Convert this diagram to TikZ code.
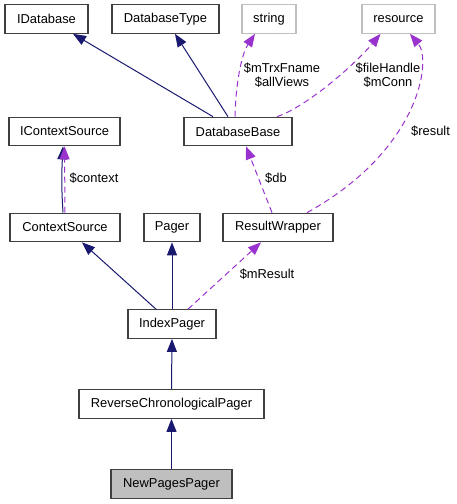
\documentclass[tikz,border=0pt]{standalone}
\usepackage{fontspec}
\setmainfont{Liberation Sans}
\usetikzlibrary{arrows.meta}
\definecolor{navy}{HTML}{191970}
\definecolor{orchid}{HTML}{9A32CD}
\definecolor{boxline}{HTML}{404040}
\definecolor{grayline}{HTML}{BFBFBF}
\definecolor{grayfill}{HTML}{BFBFBF}
\begin{document}
\begin{tikzpicture}[x=1pt,y=-1pt,
  box/.style={draw=boxline, line width=1.2pt, fill=white, inner sep=0pt,
    minimum height=28.5pt, font=\fontsize{12.9}{14}\selectfont},
  extbox/.style={box, draw=grayline},
  lbl/.style={font=\fontsize{12.9}{14}\selectfont, align=center, inner sep=0pt},
  inh/.style={draw=navy, line width=1pt, -{Triangle[length=13pt,width=10pt]}},
  use/.style={draw=orchid, line width=1pt, dash pattern=on 6pt off 4pt,
    -{Triangle[length=13pt,width=10pt]}}]
\useasboundingbox (0,0) rectangle (456,504);
% nodes
\node[box, minimum width=83pt] (idb) at (46.5,19) {IDatabase};
\node[box, minimum width=107pt] (dbt) at (165.5,19) {DatabaseType};
\node[extbox, minimum width=54pt] (str) at (269,19) {string};
\node[extbox, minimum width=73pt] (res) at (398.5,19) {resource};
\node[box, minimum width=111pt] (ics) at (64.5,131.5) {IContextSource};
\node[box, minimum width=108pt] (dbb) at (238,131.5) {DatabaseBase};
\node[box, minimum width=110pt] (cs) at (65,227.5) {ContextSource};
\node[box, minimum width=56pt] (pg) at (172,227.5) {Pager};
\node[box, minimum width=110pt] (rw) at (278,227.5) {ResultWrapper};
\node[box, minimum width=88pt] (ip) at (172,324) {IndexPager};
\node[box, minimum width=185pt] (rcp) at (171.5,404) {ReverseChronologicalPager};
\node[box, fill=grayfill, minimum width=121pt] (npp) at (171.5,484) {NewPagesPager};
% inheritance edges
\draw[inh] ([xshift=-25pt]dbb.north) -- ([xshift=26.5pt]idb.south);
\draw[inh] ([xshift=-10pt]dbb.north) -- ([xshift=9.5pt]dbt.south);
\draw[inh] ([xshift=-2pt]cs.north) .. controls +(-1.5,-25) and +(-1.5,30) .. ([xshift=-1.5pt]ics.south);
\draw[inh] ([xshift=-16pt]ip.north) -- ([xshift=17pt]cs.south);
\draw[inh] (ip.north) -- (pg.south);
\draw[inh] (rcp.north) -- (ip.south);
\draw[inh] (npp.north) -- (rcp.south);
% usage edges
\draw[use] ([xshift=-3pt]dbb.north) .. controls +(1,-40) and +(-12,18) .. ([xshift=-14pt]str.south);
\draw[use] ([xshift=39pt]dbb.north) .. controls +(30,-10) and +(-25,30) .. ([xshift=-18pt]res.south);
\draw[use] ([xshift=29pt]rw.north) .. controls (420,150) and (432,60) .. ([xshift=11.5pt]res.south);
\draw[use] ([xshift=-6pt]rw.north) -- ([xshift=8pt]dbb.south);
\draw[use] (cs.north) -- (ics.south);
\draw[use] ([xshift=16pt]ip.north) -- ([xshift=-17pt]rw.south);
% labels
\node[lbl] (l1) at (282,75) {\$mTrxFname\\\$allViews};
\node[lbl] (l2) at (388,75) {\$fileHandle\\\$mConn};
\node[lbl, anchor=west] (l3) at (411,131) {\$result};
\node[lbl] (l4) at (94,178) {\$context};
\node[lbl] (l5) at (276,178) {\$db};
\node[lbl] (l6) at (267,274) {\$mResult};
\end{tikzpicture}
\end{document}
